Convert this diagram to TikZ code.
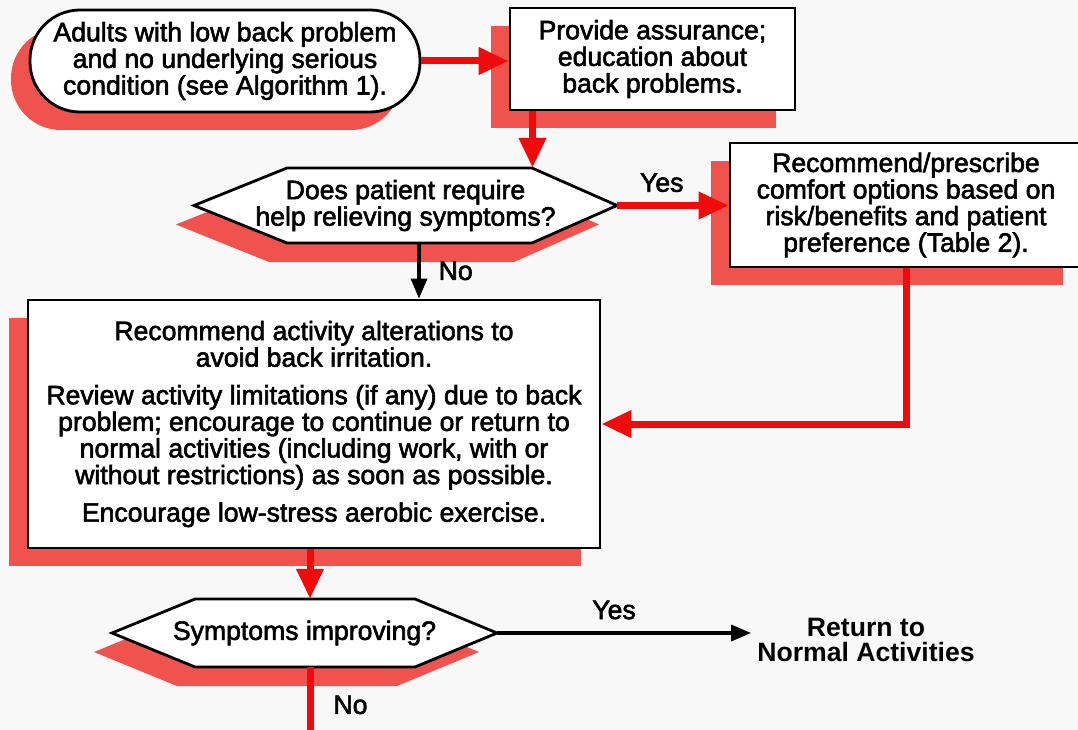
\documentclass[tikz,border=0pt]{standalone}
\usepackage{fontspec}
\setmainfont{Liberation Sans}
\newfontfamily\medfont[FakeBold=2.2]{Liberation Sans}
\usetikzlibrary{arrows.meta,calc,shadows}
\definecolor{shadowred}{RGB}{240,82,78}
\definecolor{linered}{RGB}{240,10,10}
\definecolor{bgcol}{RGB}{248,248,248}
\begin{document}
\begin{tikzpicture}[x=1pt,y=-1pt,
  txt/.style={font=\medfont\fontsize{26.6}{26.6}\selectfont, align=center, inner sep=0pt},
  boxnode/.style={txt, draw=black, line width=2.8pt, fill=white,
    general shadow={shadow xshift=-19pt, shadow yshift=-18pt, fill=shadowred, opacity=1}},
  hexfill/.style={draw=black, line width=2.8pt, fill=white, line join=miter},
  redarrow/.style={draw=linered, line width=7pt, line join=miter, -{Triangle[length=30pt,width=26pt]}},
  blackarrow/.style={draw=black, line width=3.4pt, -{Triangle[length=20pt,width=16pt]}},
  redline/.style={draw=linered, line width=7pt},
  lbl/.style={txt},
  endtxt/.style={font=\bfseries\fontsize{26.6}{25}\selectfont, align=center, inner sep=6pt}
]
\useasboundingbox (0,0) rectangle (1078,730);
\fill[bgcol] (0,0) rectangle (1078,730);

% hexagon shadows
\begin{scope}[shift={(-18,19)}]
  \fill[shadowred] (194,205.5) -- (287,168) -- (532,168) -- (617,205.5) -- (532,243) -- (287,243) -- cycle;
  \fill[shadowred] (112,633) -- (195,599) -- (415,599) -- (497,633) -- (415,667) -- (195,667) -- cycle;
\end{scope}
% hexagons
\draw[hexfill] (194,205.5) -- (287,168) -- (532,168) -- (617,205.5) -- (532,243) -- (287,243) -- cycle;
\draw[hexfill] (112,633) -- (195,599) -- (415,599) -- (497,633) -- (415,667) -- (195,667) -- cycle;

% nodes
\node[boxnode, rounded corners=50pt, minimum width=390pt, minimum height=102pt] (start) at (225,61)
  {Adults with low back problem\\and no underlying serious\\condition (see Algorithm 1).};
\node[boxnode, minimum width=285pt, minimum height=102pt] (assure) at (652.5,59)
  {Provide assurance;\\education about\\back problems.};
\node[boxnode, minimum width=352pt, minimum height=124pt] (comfort) at (906,205)
  {Recommend/prescribe\\comfort options based on\\risk/benefits and patient\\preference (Table 2).};
\node[txt, minimum width=423pt, minimum height=75pt] (q1) at (405.5,205.5)
  {Does patient require\\help relieving symptoms?};
\node[boxnode, minimum width=572pt, minimum height=248pt] (activity) at (314,424)
  {Recommend activity alterations to\\avoid back irritation.\\[11pt]
   Review activity limitations (if any) due to back\\problem; encourage to continue or return to\\normal activities (including work, with or\\without restrictions) as soon as possible.\\[11pt]
   Encourage low-stress aerobic exercise.};
\node[txt, minimum width=385pt, minimum height=68pt] (q2) at (304.5,633) {Symptoms improving?};
\node[endtxt] (ret) at (866,640) {Return to\\Normal Activities};

% connectors
\draw[redarrow] (start.east) -- (start.east -| assure.west);
\coordinate (a1) at ([xshift=-120pt]assure.south);
\draw[redarrow] (a1) -- (a1 |- q1.north);
\draw[redarrow] (q1.east) -- (q1.east -| comfort.west) node[lbl, pos=0.4, above=10pt] {Yes};
\coordinate (n1) at ([xshift=13.5pt]q1.south);
\draw[blackarrow] (n1) -- (n1 |- activity.north) node[lbl, midway, right=18pt] {No};
\draw[redarrow] (comfort.south) |- (activity.east);
\coordinate (a2) at ([xshift=-4pt]activity.south);
\draw[redarrow] (a2) -- (a2 |- q2.north);
\draw[blackarrow] (q2.east) -- (q2.east -| ret.west) node[lbl, pos=0.46, above=12pt] {Yes};
\coordinate (a3) at ([xshift=5.5pt]q2.south);
\coordinate (bot) at (a3 |- 0,730);
\draw[redline] (a3) -- (bot) node[lbl, pos=0.6, right=20pt] {No};
\end{tikzpicture}
\end{document}
